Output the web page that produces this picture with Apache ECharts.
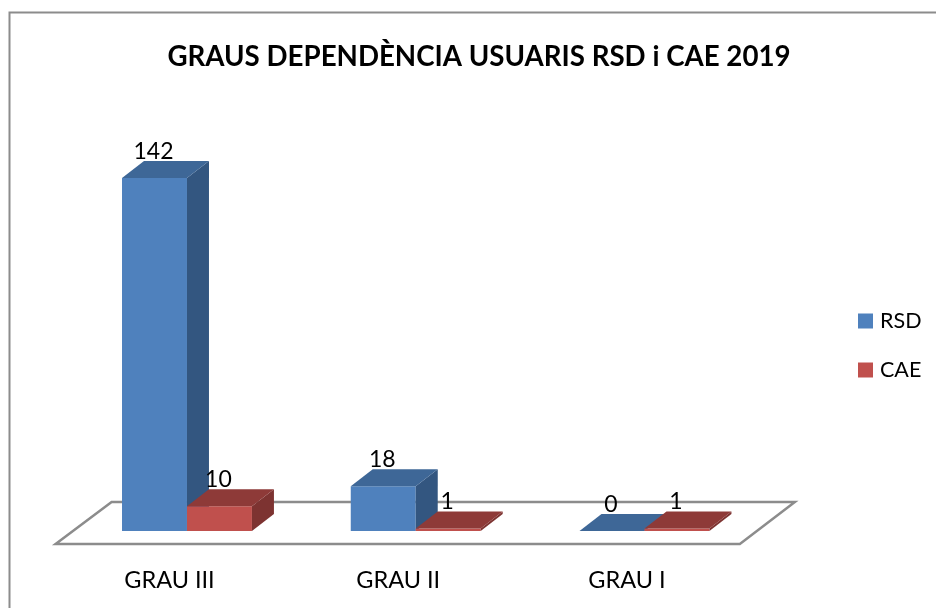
<!DOCTYPE html>
<html><head><meta charset="utf-8">
<style>html,body{margin:0;padding:0;background:#fff;overflow:hidden}#c{width:936px;height:608px}</style>
<script src="https://cdn.jsdelivr.net/npm/echarts@6/dist/echarts.min.js"></script>
</head><body><div id="c"></div>
<script>
const categories = ['GRAU III', 'GRAU II', 'GRAU I'];
const rsd = [142, 18, 0];
const cae = [10, 1, 1];
const seriesNames = ['RSD', 'CAE'];
const FONT = 'Lato';
const DX = 22, DY = 17;
const chart = echarts.init(document.getElementById('c'), null, {renderer:'canvas'});
function bar3d(colors, seriesIndex) {
  return function (params, api) {
    const i = api.value(0), v = api.value(1);
    const band = api.size([1, 0])[0];
    const w = band * 0.284;
    const p0 = api.coord([i, 0]);
    const top = api.coord([i, v])[1];
    const x0 = p0[0] - w + seriesIndex * w, x1 = x0 + w, y0 = p0[1];
    const children = [];
    if (y0 - top > 0) {
      children.push({type:'rect', shape:{x:x0, y:top, width:w, height:y0-top}, style:{fill:colors[0]}});
    }
    children.push({type:'polygon', shape:{points:[[x1,top],[x1+DX,top-DY],[x1+DX,y0-DY],[x1,y0]]}, style:{fill:colors[2]}});
    children.push({type:'polygon', shape:{points:[[x0,top],[x0+DX,top-DY],[x1+DX,top-DY],[x1,top]]}, style:{fill:colors[1]}});
    children.push({type:'text', z2:50, style:{text:String(v), x:(x0+x1)/2 - 1, y:top-26.5, fill:'#000', font:'23px '+FONT, textAlign:'center', textVerticalAlign:'middle'}});
    return {type:'group', children};
  };
}
function floor(params, api) {
  const cs = params.coordSys;
  const y = api.coord([0, 0])[1];
  const l = cs.x, r = cs.x + cs.width;
  return {type:'polygon', silent:true,
    shape:{points:[[l-17,y+13],[r-19,y+13],[r+36,y-29],[l+39,y-29]]},
    style:{fill:'#fff', stroke:'#8c8c8c', lineWidth:2.5}};
}
chart.setOption({
  animation:false,
  backgroundColor:'#fff',
  title:{text:'GRAUS DEPENDÈNCIA USUARIS RSD i CAE 2019', left:479, top:43, padding:0, textAlign:'center',
    textStyle:{fontFamily:FONT, fontWeight:'bold', fontSize:27.7, color:'#000'}},
  legend:{orient:'vertical', left:858, top:310, padding:0, itemWidth:15, itemHeight:15, itemGap:27, icon:'rect',
    data:seriesNames, textStyle:{fontFamily:FONT, fontSize:21.5, color:'#000', padding:[0,0,0,2]}},
  grid:{left:72.6, top:158, width:686.25, height:373, containLabel:false},
  xAxis:{type:'category', data:categories, axisLine:{show:false}, axisTick:{show:false}, splitLine:{show:false},
    axisLabel:{color:'#000', fontFamily:FONT, fontSize:23.5, margin:37, padding:[0,35,0,0], interval:0}},
  yAxis:{type:'value', min:0, max:150, show:false},
  graphic:[{type:'rect', silent:true, z:-10, shape:{x:9.5,y:12.5,width:1000,height:700}, style:{fill:'none', stroke:'#8c8c8c', lineWidth:2}}],
  series:[
    {type:'custom', name:'floor', silent:true, z:1, data:[[0,0]], encode:{x:0,y:1}, renderItem:floor, clip:false},
    {type:'custom', name:'RSD', z:2, itemStyle:{color:'#4F81BD'}, data:rsd.map((v,i)=>[i,v]), encode:{x:0,y:1},
      renderItem:bar3d(['#4F81BD','#3E6797','#335680'],0), clip:false},
    {type:'custom', name:'CAE', z:3, itemStyle:{color:'#C0504D'}, data:cae.map((v,i)=>[i,v]), encode:{x:0,y:1},
      renderItem:bar3d(['#C0504D','#8E3A38','#7D3331'],1), clip:false}
  ]
});
</script></body></html>
